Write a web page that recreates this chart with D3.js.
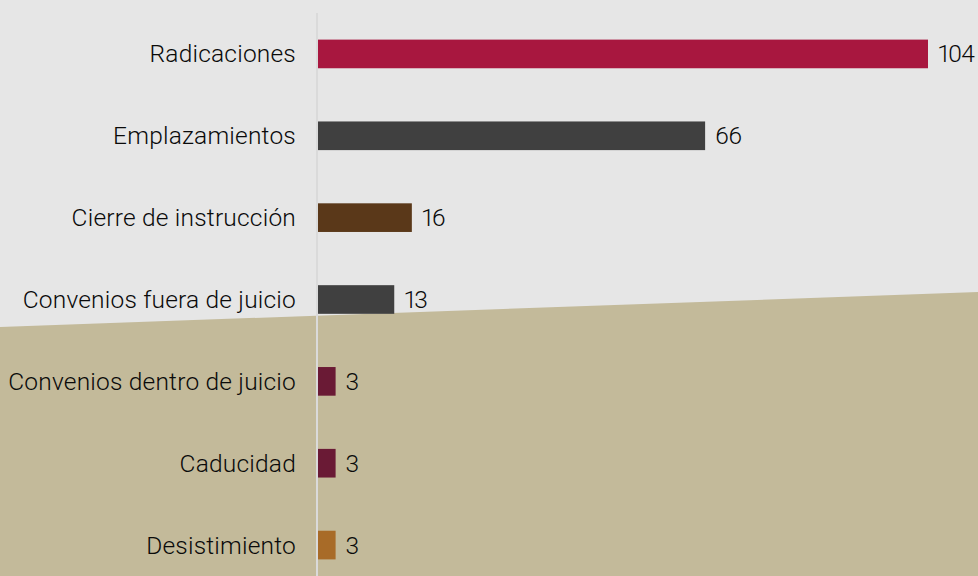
<!DOCTYPE html>
<html>
<head>
<meta charset="utf-8">
<script src="https://cdn.jsdelivr.net/npm/d3@7"></script>
<style>
  body { margin: 0; background: #e6e6e6; }
  text { font-family: Roboto, "Noto Sans", sans-serif; fill: #0a0a0a; }
  text.val { font-variant-numeric: proportional-nums; font-feature-settings: "pnum" 1; }
</style>
</head>
<body>
<script>
// Data
var categories = ['Radicaciones', 'Emplazamientos', 'Cierre de instrucción',
                  'Convenios fuera de juicio', 'Convenios dentro de juicio',
                  'Caducidad', 'Desistimiento'];
var values = [104, 66, 16, 13, 3, 3, 3];
var barColors = ['#a8173f', '#404040', '#5a3819', '#404040', '#6a1a35', '#6a1a35', '#a86b28'];

var w = 978,
    h = 576,
    left = 318;

var dataset = categories.map(function(c, i) {
  return { name: c, value: values[i], color: barColors[i] };
});

var svg = d3.select('body')
            .append('svg')
            .attr('width', w)
            .attr('height', h);

// background: gray top, tan lower part with a slanted edge
svg.append('rect')
   .attr('width', w)
   .attr('height', h)
   .attr('fill', '#e6e6e6');

svg.append('polygon')
   .attr('points', [[0, 327], [w, 292], [w, h], [0, h]].join(' '))
   .attr('fill', '#c3ba9a');

// Scales
var xScale = d3.scaleLinear()
               .domain([0, 104])
               .range([left, 928]);

var yScale = d3.scaleBand()
               .domain(categories)
               .range([13, 586])
               .paddingInner(0.65)
               .paddingOuter(0.325);

// axis line
svg.append('line')
   .attr('x1', 317).attr('x2', 317)
   .attr('y1', 13).attr('y2', h)
   .attr('stroke', '#dadada')
   .attr('stroke-width', 2);

// bars
svg.selectAll('rect.bar')
   .data(dataset)
   .enter()
   .append('rect')
   .attr('class', 'bar')
   .attr('x', xScale(0))
   .attr('y', function(d) { return yScale(d.name); })
   .attr('width', function(d) { return xScale(d.value) - xScale(0); })
   .attr('height', yScale.bandwidth())
   .attr('fill', function(d) { return d.color; });

// category labels
svg.selectAll('text.cat')
   .data(dataset)
   .enter()
   .append('text')
   .attr('class', 'cat')
   .attr('x', 296)
   .attr('y', function(d) { return yScale(d.name) + yScale.bandwidth() / 2 + 8.5; })
   .attr('text-anchor', 'end')
   .style('font-size', '24.5px')
   .style('font-weight', 300)
   .style('letter-spacing', '0.2px')
   .text(function(d) { return d.name; });

// value labels
svg.selectAll('text.val')
   .data(dataset)
   .enter()
   .append('text')
   .attr('class', 'val')
   .attr('x', function(d) { return xScale(d.value) + 10; })
   .attr('y', function(d) { return yScale(d.name) + yScale.bandwidth() / 2 + 8.5; })
   .style('font-size', '24.5px')
   .style('font-weight', 300)
   .style('letter-spacing', '-0.8px')
   .text(function(d) { return d.value; });
</script>
</body>
</html>
